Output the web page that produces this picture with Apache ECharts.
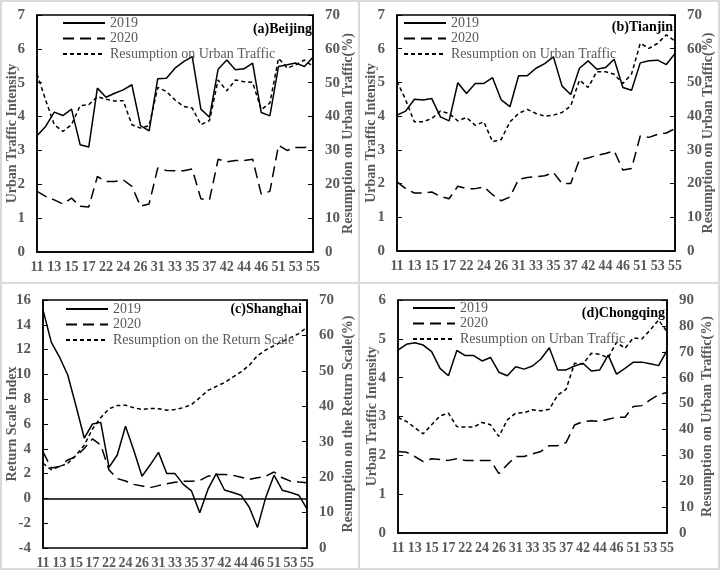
<!DOCTYPE html>
<html>
<head>
<meta charset="utf-8">
<script src="https://cdn.jsdelivr.net/npm/echarts@6/dist/echarts.min.js"></script>
<style>
  html, body { margin: 0; padding: 0; background: #fff; }
  #main { width: 720px; height: 570px; }
</style>
</head>
<body>
<div id="main"></div>
<script>
var chartDom = document.getElementById('main');
var myChart = echarts.init(chartDom);

// x categories (week + day codes), labels shown every other one
var cats = ['11','12','13','14','15','16','17','21','22','23','24','25','26','27',
  '31','32','33','34','35','36','37','41','42','43','44','45','46','47','51','52','53','54','55'];

// (a) Beijing
var bj2019 = [3.43,3.71,4.13,4.03,4.22,3.17,3.10,4.84,4.57,4.69,4.79,4.94,3.73,3.58,5.12,5.13,5.43,5.62,5.77,4.22,3.98,5.40,5.67,5.38,5.41,5.58,4.12,4.02,5.48,5.53,5.58,5.48,5.75];
var bj2020 = [1.79,1.64,1.54,1.42,1.59,1.35,1.33,2.23,2.08,2.08,2.13,1.94,1.35,1.42,2.48,2.41,2.40,2.40,2.45,1.57,1.54,2.74,2.66,2.70,2.70,2.74,1.71,1.79,3.15,3.00,3.09,3.09,3.12];
var bjRes = [52.6,44.9,37.6,35.6,37.6,43.2,43.5,45.9,45.1,44.6,44.7,37.6,36.6,37.3,48.6,47.4,44.9,43.0,42.5,37.6,38.8,50.8,47.6,50.8,50.3,50.1,42.0,44.0,57.2,54.3,55.3,56.7,54.8];

// (b) Tianjin
var tj2019 = [4.03,4.15,4.50,4.48,4.52,3.98,3.86,4.99,4.67,4.97,4.97,5.14,4.48,4.28,5.20,5.20,5.42,5.56,5.76,4.89,4.64,5.42,5.64,5.39,5.44,5.69,4.85,4.77,5.58,5.64,5.66,5.53,5.86];
var tj2020 = [2.05,1.85,1.72,1.72,1.75,1.62,1.55,1.92,1.85,1.85,1.90,1.67,1.49,1.60,2.13,2.18,2.20,2.23,2.33,2.00,2.00,2.71,2.76,2.84,2.89,2.97,2.40,2.45,3.41,3.37,3.46,3.50,3.63];
var tjRes = [50.4,44.8,38.3,38.3,39.3,41.5,40.8,38.6,39.6,37.3,38.3,32.4,33.1,38.3,40.8,42.0,40.8,40.0,40.3,41.1,43.0,50.7,48.5,53.2,53.2,52.4,49.7,52.5,61.6,60.1,61.6,64.1,62.3];

// (c) Shanghai
var sh2019 = [15.2,12.6,11.4,9.95,7.45,4.87,6.0,6.13,2.5,3.5,5.82,3.89,1.79,2.71,3.71,2.0,2.0,1.13,0.6,-1.16,0.74,2.0,0.68,0.47,0.26,-0.71,-2.34,0.08,1.87,0.66,0.47,0.26,-0.84];
var sh2020 = [3.76,2.45,2.58,3.1,3.37,4.03,4.8,4.3,2.3,1.6,1.4,1.13,1.0,0.87,1.03,1.18,1.3,1.39,1.39,1.45,1.79,1.92,1.92,1.87,1.71,1.53,1.66,1.79,2.13,1.66,1.39,1.32,1.26];
var shRes = [23.9,22.1,23.0,23.9,26.2,29.0,33.6,36.8,39.3,40.2,40.3,39.6,39.1,39.4,39.3,38.9,39.1,39.6,40.5,42.4,44.5,45.6,46.7,48.2,49.7,51.6,54.3,55.9,57.1,58.3,59.4,60.5,62.3];

// (d) Chongqing
var cq2019 = [4.71,4.86,4.90,4.84,4.67,4.24,4.05,4.70,4.57,4.57,4.43,4.52,4.14,4.05,4.28,4.22,4.30,4.48,4.77,4.20,4.20,4.30,4.37,4.17,4.20,4.58,4.09,4.24,4.40,4.40,4.36,4.31,4.70];
var cq2020 = [2.10,2.08,1.97,1.84,1.91,1.89,1.87,1.91,1.87,1.87,1.87,1.87,1.53,1.76,1.97,1.97,2.04,2.10,2.25,2.25,2.33,2.78,2.87,2.89,2.87,2.93,2.98,2.98,3.26,3.28,3.43,3.56,3.62];
var cqRes = [44.6,43.1,40.7,38.3,41.8,45.2,46.3,41.1,40.9,40.9,42.7,41.8,37.3,43.7,46.3,46.5,47.6,47.2,47.8,53.3,55.5,65.6,65.3,69.4,69.0,67.7,73.7,71.3,75.4,74.9,78.4,82.3,77.8];

var gray = '#595959';
var font = "'Liberation Serif', 'Times New Roman', serif";

var panels = [
  { title: '(a)Beijing', tr: 408, ty: 22, grid: {left: 37, top: 15, width: 276, height: 237},
    leftName: 'Urban Traffic Intensity', rightName: 'Resumption on Urban Traffic(%)', resName: 'Resumption on Urban Traffic',
    lMin: 0, lMax: 7, lInt: 1, rMax: 70, lGap: 18, rGap: 28, legend: {left: 62, top: 16},
    d19: bj2019, d20: bj2020, res: bjRes },
  { title: '(b)Tianjin', tr: 47, ty: 20, grid: {left: 397, top: 15, width: 278, height: 236},
    leftName: 'Urban Traffic Intensity', rightName: 'Resumption on Urban Traffic(%)', resName: 'Resumption on Urban Traffic',
    lMin: 0, lMax: 7, lInt: 1, rMax: 70, lGap: 19, rGap: 26, legend: {left: 403, top: 16},
    d19: tj2019, d20: tj2020, res: tjRes },
  { title: '(c)Shanghai', tr: 418, ty: 302, grid: {left: 43, top: 300, width: 264, height: 253},
    leftName: 'Return Scale Index', rightName: 'Resumption on the Return Scale(%)', resName: 'Resumption on the Return Scale',
    lMin: -4, lMax: 16, lInt: 2, rMax: 70, lGap: 24, rGap: 34, legend: {left: 65, top: 302},
    d19: sh2019, d20: sh2020, res: shRes, onZero: true },
  { title: '(d)Chongqing', tr: 55, ty: 306, grid: {left: 398, top: 300, width: 269, height: 233},
    leftName: 'Urban Traffic Intensity', rightName: 'Resumption on Urban Traffic(%)', resName: 'Resumption on Urban Traffic',
    lMin: 0, lMax: 6, lInt: 1, rMax: 90, lGap: 19, rGap: 33, legend: {left: 412, top: 301},
    d19: cq2019, d20: cq2020, res: cqRes }
];

var grid = [], xAxis = [], yAxis = [], series = [], legend = [], title = [];

panels.forEach(function (p, k) {
  grid.push(Object.assign({show: true, borderColor: '#000', borderWidth: 1.5, backgroundColor: 'transparent'}, p.grid));
  xAxis.push({
    type: 'category', gridIndex: k, data: cats, boundaryGap: false,
    axisLine: {onZero: !!p.onZero, onZeroAxisIndex: k * 2, lineStyle: {color: '#000', width: 1.5}},
    axisTick: {show: false},
    splitLine: {show: false},
    axisLabel: {interval: 1, margin: 8, color: gray, fontWeight: 'bold', fontSize: 14, fontFamily: font}
  });
  yAxis.push({
    type: 'value', gridIndex: k, position: 'left', min: p.lMin, max: p.lMax, interval: p.lInt,
    name: p.leftName, nameLocation: 'middle', nameGap: p.lGap, nameRotate: 90, nameMoveOverlap: false,
    nameTextStyle: {color: gray, fontWeight: 'bold', fontSize: 14, fontFamily: font},
    axisLine: {show: true, lineStyle: {color: '#000', width: 1.5}},
    axisTick: {show: true, inside: true, length: 5, lineStyle: {color: '#000'}},
    splitLine: {show: false},
    axisLabel: {margin: 12, color: gray, fontWeight: 'bold', fontSize: 15, fontFamily: font}
  });
  yAxis.push({
    type: 'value', gridIndex: k, position: 'right', min: 0, max: p.rMax, interval: 10,
    name: p.rightName, nameLocation: 'middle', nameGap: p.rGap, nameRotate: 90, nameMoveOverlap: false,
    nameTextStyle: {color: gray, fontWeight: 'bold', fontSize: 14, fontFamily: font},
    axisLine: {show: true, lineStyle: {color: '#000', width: 1.5}},
    axisTick: {show: true, inside: true, length: 5, lineStyle: {color: '#000'}},
    splitLine: {show: false},
    axisLabel: {margin: 12, color: gray, fontWeight: 'bold', fontSize: 15, fontFamily: font}
  });
  series.push({
    name: '2019', type: 'line', xAxisIndex: k, yAxisIndex: k * 2, data: p.d19,
    symbol: 'none', lineStyle: {color: '#000', width: 1.5, type: 'solid'}, itemStyle: {color: '#000'}
  });
  series.push({
    name: '2020', type: 'line', xAxisIndex: k, yAxisIndex: k * 2, data: p.d20,
    symbol: 'none', lineStyle: {color: '#000', width: 1.5, type: [11, 6]}, itemStyle: {color: '#000'}
  });
  series.push({
    name: p.resName, type: 'line', xAxisIndex: k, yAxisIndex: k * 2 + 1, data: p.res,
    symbol: 'none', lineStyle: {color: '#000', width: 1.5, type: [4, 3]}, itemStyle: {color: '#000'}
  });
  legend.push({
    orient: 'vertical', left: p.legend.left, top: p.legend.top,
    itemWidth: 42, itemHeight: 14, itemGap: 1.5, padding: 0,
    data: ['2019', '2020', p.resName],
    itemStyle: {color: 'rgba(0,0,0,0)', borderColor: 'rgba(0,0,0,0)', borderWidth: 0},
    textStyle: {color: gray, fontSize: 14, fontFamily: font}
  });
  title.push({
    text: p.title, right: p.tr, top: p.ty, padding: 0,
    textStyle: {color: '#000', fontWeight: 'bold', fontSize: 14, fontFamily: font}
  });
});

var option = {
  backgroundColor: '#fff',
  animation: false,
  title: title,
  legend: legend,
  grid: grid,
  xAxis: xAxis,
  yAxis: yAxis,
  series: series,
  graphic: [
    {type: 'rect', shape: {x: 1, y: 1, width: 718, height: 568}, style: {fill: 'none', stroke: '#d9d9d9', lineWidth: 2}, silent: true},
    {type: 'line', shape: {x1: 359, y1: 0, x2: 359, y2: 570}, style: {stroke: '#d9d9d9', lineWidth: 2}, silent: true},
    {type: 'line', shape: {x1: 0, y1: 283, x2: 720, y2: 283}, style: {stroke: '#d9d9d9', lineWidth: 2}, silent: true}
  ]
};

myChart.setOption(option);
</script>
</body>
</html>
